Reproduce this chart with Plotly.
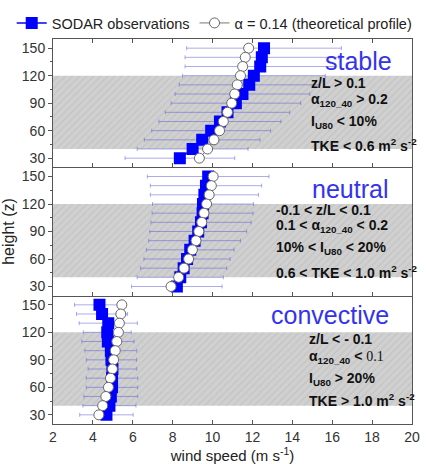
import plotly.graph_objects as go
from plotly.subplots import make_subplots

heights = [150, 140, 130, 120, 110, 100, 90, 80, 70, 60, 50, 40, 30]

stable_sodar = [12.58, 12.47, 12.39, 12.07, 11.84, 11.50, 11.17, 10.75, 10.37, 9.93, 9.48, 9.00, 8.36]
stable_err = [3.88, 3.85, 3.77, 3.58, 3.51, 3.38, 3.25, 3.12, 3.06, 2.98, 2.90, 2.78, 2.75]
stable_theory = [11.81, 11.64, 11.51, 11.40, 11.24, 11.11, 10.96, 10.75, 10.54, 10.35, 10.07, 9.75, 9.34]

neutral_sodar = [9.78, 9.67, 9.59, 9.52, 9.50, 9.42, 9.28, 9.10, 8.88, 8.72, 8.55, 8.38, 8.21]
neutral_err = [3.05, 2.79, 2.71, 2.53, 2.53, 2.51, 2.43, 2.30, 2.20, 2.16, 2.16, 2.16, 2.27]
neutral_theory = [10.03, 9.94, 9.83, 9.70, 9.57, 9.46, 9.31, 9.17, 8.99, 8.80, 8.57, 8.30, 7.92]

conv_sodar = [4.33, 4.46, 4.77, 4.72, 4.75, 4.90, 4.93, 4.98, 4.96, 4.96, 4.90, 4.83, 4.68]
conv_err = [1.25, 1.28, 1.46, 1.20, 1.31, 1.30, 1.26, 1.22, 1.29, 1.29, 1.35, 1.33, 1.34]
conv_theory = [5.45, 5.40, 5.33, 5.28, 5.20, 5.12, 5.04, 4.98, 4.88, 4.78, 4.65, 4.49, 4.30]

band_x = [2, 20, 20, 2, 2]
band_y = [40, 40, 120, 120, 40]

panel_names = ["stable", "neutral", "convective"]
panel_texts = [
    ["z/L > 0.1", "α<sub>120_40</sub> > 0.2", "I<sub>U80</sub> < 10%", "TKE < 0.6 m<sup>2</sup> s<sup>-2</sup>"],
    ["-0.1 < z/L < 0.1", "0.1 < α<sub>120_40</sub> < 0.2", "10% < I<sub>U80</sub> < 20%", "0.6 < TKE < 1.0 m<sup>2</sup> s<sup>-2</sup>"],
    ["z/L < - 0.1", "α<sub>120_40</sub> < <span style='font-family:Liberation Serif;font-weight:normal'>0.1</span>", "I<sub>U80</sub> > 20%", "TKE > 1.0 m<sup>2</sup> s<sup>-2</sup>"],
]
name_pos = [(17.3, 136), (16.9, 136.5), (15.9, 138.8)]
text_x = [14.82, 13.07, 14.72]
text_y = [[112, 93.3, 69.3, 44.3], [114.0, 95.7, 71.7, 45.6], [112.8, 93, 69, 46]]

FONT = "Liberation Sans, Arial, sans-serif"

fig = make_subplots(rows=3, cols=1, shared_xaxes=True, vertical_spacing=0)

panels = [
    (stable_sodar, stable_err, stable_theory),
    (neutral_sodar, neutral_err, neutral_theory),
    (conv_sodar, conv_err, conv_theory),
]

for i, (sod, err, th) in enumerate(panels):
    r = i + 1
    fig.add_trace(go.Scatter(
        x=band_x, y=band_y, fill="toself", mode="none",
        fillcolor="#cdcdcd",
        fillpattern=dict(shape="/", bgcolor="#d0d0d0", fgcolor="#b5b5b5", size=5, solidity=0.25),
        showlegend=False, hoverinfo="skip"), row=r, col=1)
    fig.add_trace(go.Scatter(
        x=sod, y=heights, mode="lines+markers", name="SODAR observations",
        line=dict(color="#0000ff", width=1.5),
        marker=dict(symbol="square", size=12, color="#0000ff"),
        error_x=dict(type="data", array=err, color="rgba(90,90,215,0.5)", thickness=1, width=2),
        showlegend=(i == 0)), row=r, col=1)
    fig.add_trace(go.Scatter(
        x=th, y=heights, mode="lines+markers", name="α = 0.14 (theoretical profile)",
        line=dict(color="#777777", width=1),
        marker=dict(symbol="circle", size=10, color="white", line=dict(color="#666666", width=1)),
        showlegend=(i == 0)), row=r, col=1)

    ax = "" if i == 0 else str(r)
    fig.add_annotation(x=name_pos[i][0], y=name_pos[i][1], xref="x" + ax, yref="y" + ax,
                       text=panel_names[i], showarrow=False,
                       font=dict(family=FONT, size=25, color="#3333ee"))
    for t, yy in zip(panel_texts[i], text_y[i]):
        fig.add_annotation(x=text_x[i], y=yy, xref="x" + ax, yref="y" + ax,
                           text="<b>" + t + "</b>", showarrow=False, xanchor="left",
                           font=dict(family=FONT, size=14, color="#111111"))

for r in range(1, 4):
    fig.update_yaxes(range=[20, 160], tickvals=[30, 60, 90, 120, 150],
                     ticks="outside", ticklen=4, showline=True, linecolor="#555555",
                     linewidth=1, tickcolor="#555555",
                     mirror=True, showgrid=False, zeroline=False,
                     minor=dict(dtick=15, ticks="outside", ticklen=2, tickcolor="#555555"),
                     tickfont=dict(family=FONT, size=14, color="#333333"), row=r, col=1)
    fig.update_xaxes(range=[2, 20], dtick=2, ticks="inside", ticklen=4,
                     showline=True, linecolor="#555555", linewidth=1, tickcolor="#555555",
                     mirror=("ticks" if r == 1 else False),
                     showgrid=False, zeroline=False,
                     tickfont=dict(family=FONT, size=14, color="#333333"), row=r, col=1)

fig.update_xaxes(title=dict(text="wind speed (m s<sup>-1</sup>)", standoff=2,
                            font=dict(family=FONT, size=15, color="#222222")), row=3, col=1)
fig.update_yaxes(title=dict(text="height (z)", standoff=4,
                            font=dict(family=FONT, size=16, color="#222222")), row=2, col=1)

fig.update_layout(
    width=427, height=464,
    margin=dict(l=48, r=7, t=24, b=37),
    plot_bgcolor="white", paper_bgcolor="white",
    showlegend=True,
    legend=dict(orientation="h", x=-0.115, y=1.0, xanchor="left", yanchor="bottom",
                font=dict(family=FONT, size=14.5, color="#222222"),
                bgcolor="rgba(0,0,0,0)", itemwidth=30, tracegroupgap=0),
)

fig.write_html("out.html")
